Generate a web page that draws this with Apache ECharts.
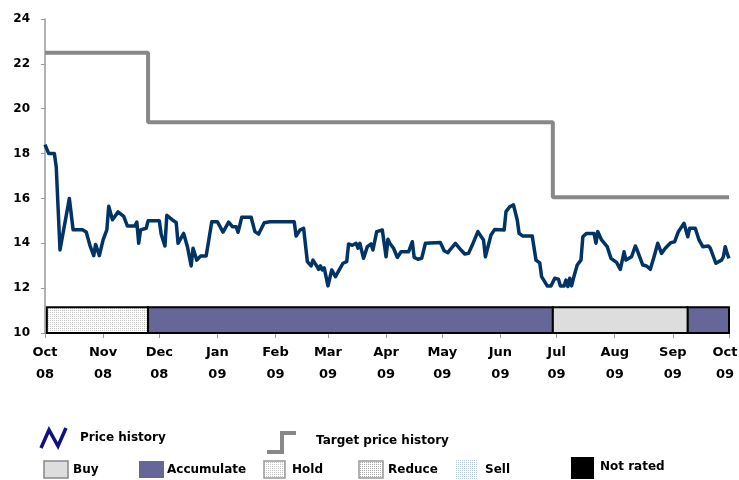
<!DOCTYPE html>
<html>
<head>
<meta charset="utf-8">
<script src="https://cdn.jsdelivr.net/npm/echarts@6/dist/echarts.min.js"></script>
<style>
  html, body { margin: 0; padding: 0; background: #fff; }
  #chart { width: 739px; height: 480px; }
</style>
</head>
<body>
<div id="chart"></div>
<script>
// day offsets from 1 Oct 2008 and closing prices
var priceDays = [
  0, 2, 5, 6, 8, 13, 15, 20, 22, 24,
  26, 27, 29, 31, 33, 34, 36, 39, 42, 44,
  48, 49, 50, 51, 54, 55, 61, 62, 64, 65,
  68, 70, 71, 74, 76, 78, 79, 81, 83, 86,
  89, 92, 95, 98, 100, 102, 103, 105, 110, 112,
  113, 114, 117, 120, 133, 134, 136, 138, 140, 142,
  143, 145, 146, 147, 148, 149, 151, 153, 155, 157,
  159, 161, 162, 164, 166, 167, 168, 170, 172, 174,
  175, 177, 180, 181, 182, 183, 184, 186, 188, 190,
  194, 196, 197, 199, 201, 202, 203, 211, 213, 215,
  216, 219, 222, 224, 226, 228, 231, 232, 234, 235,
  238, 240, 245, 246, 248, 250, 252, 253, 255, 260,
  262, 264, 265, 266, 268, 270, 272, 274, 275, 277,
  278, 279, 280, 281, 282, 284, 286, 287, 289, 293,
  294, 295, 297, 300, 301, 302, 305, 307, 309, 310,
  313, 315, 316, 319, 321, 323, 325, 327, 329, 331,
  334, 336, 338, 341, 343, 344, 347, 349, 351, 354,
  355, 358, 359, 361, 362, 363, 364, 365
];
var priceValues = [
  18.4, 18.0, 18.0, 17.4, 13.7, 16.0, 14.6, 14.6, 14.5, 13.9,
  13.45, 13.95, 13.45, 14.15, 14.6, 15.65, 15.05, 15.4, 15.2, 14.77,
  14.77, 14.95, 14.0, 14.6, 14.67, 15.0, 15.0, 14.4, 13.88, 15.25,
  15.04, 14.93, 14.0, 14.44, 13.85, 12.99, 13.78, 13.25, 13.43, 13.43,
  14.96, 14.96, 14.5, 14.94, 14.74, 14.74, 14.49, 15.16, 15.16, 14.52,
  14.59, 14.41, 14.92, 14.96, 14.96, 14.32, 14.59, 14.67, 13.18, 12.99,
  13.25, 12.99, 12.84, 12.99, 12.81, 12.9, 12.1, 12.81, 12.51, 12.81,
  13.11, 13.18, 13.97, 13.91, 14.0, 13.78, 14.0, 13.33, 13.85, 13.97,
  13.7, 14.52, 14.59, 14.57, 13.4, 14.18, 14.0, 13.78, 13.37, 13.62,
  13.62, 14.07, 13.37, 13.29, 13.33, 13.29, 14.0, 14.03, 13.67, 13.58,
  13.7, 14.0, 13.7, 13.52, 13.55, 13.92, 14.52, 14.52, 14.15, 13.4,
  14.37, 14.62, 14.59, 15.41, 15.63, 15.71, 15.04, 14.44, 14.32, 14.32,
  13.25, 13.13, 12.51, 12.44, 12.1, 12.1, 12.44, 12.4, 12.1, 12.1,
  12.36, 12.07, 12.44, 12.1, 12.44, 13.03, 13.25, 14.29, 14.44, 14.44,
  14.0, 14.52, 14.15, 13.85, 13.78, 13.33, 13.15, 12.84, 13.62, 13.25,
  13.4, 13.88, 13.7, 13.03, 12.99, 12.84, 13.4, 14.0, 13.55, 13.78,
  14.03, 14.07, 14.52, 14.89, 14.29, 14.67, 14.67, 14.15, 13.85, 13.88,
  13.78, 13.11, 13.03, 13.25, 13.4, 13.85, 13.55, 13.33
];

// target price steps
var targetDays = [0, 55, 271, 365];
var targetValues = [22.5, 19.4, 16.05, 16.05];

// rating periods
var ratingStart = [1, 55, 271, 343];
var ratingEnd = [55, 271, 343, 365];
var ratingNames = ["Hold", "Accumulate", "Buy", "Accumulate"];

var monthNames = ["Jan", "Feb", "Mar", "Apr", "May", "Jun", "Jul", "Aug", "Sep", "Oct", "Nov", "Dec"];
var yTicks = [10, 12, 14, 16, 18, 20, 22, 24];

var FONT = "DejaVu Sans";
var RATING_TOP = 11.15;

function pad(n) {
  return n < 10 ? "0" + n : "" + n;
}

// one category per day, 1 Oct 2008 .. 1 Oct 2009
var dayCats = [];
for (var i = 0; i <= 365; i++) {
  var d = new Date(2008, 9, 1 + i);
  dayCats.push(d.getFullYear() + "-" + pad(d.getMonth() + 1) + "-" + pad(d.getDate()));
}

function isMonthStart(index, value) {
  return /-01$/.test(value);
}

function makePattern(bg, dot, step) {
  var c = document.createElement("canvas");
  c.width = step;
  c.height = step;
  var ctx = c.getContext("2d");
  ctx.fillStyle = bg;
  ctx.fillRect(0, 0, step, step);
  ctx.fillStyle = dot;
  ctx.fillRect(0, 0, 1, 1);
  return { image: c, repeat: "repeat" };
}

var holdFill = makePattern("#ffffff", "#c4c4c4", 2);
var reduceFill = makePattern("#ffffff", "#a8a8a8", 2);
var sellFill = makePattern("#ffffff", "#b8c8dc", 2);

var ratingColors = {
  Buy: "#dddddd",
  Accumulate: "#666699",
  Hold: holdFill
};

var priceData = priceDays.map(function (d, i) {
  return [d, priceValues[i]];
});
var targetData = targetDays.map(function (d, i) {
  return [d, targetValues[i]];
});
var ratingData = ratingStart.map(function (s, i) {
  return [s, ratingEnd[i], 10];
});

var labelStyle = { fontFamily: FONT, fontWeight: "bold", fontSize: 12, fill: "#000" };
function legendText(x, y, txt) {
  return { type: "text", x: x, y: y, style: Object.assign({ text: txt, verticalAlign: "middle" }, labelStyle) };
}

var axisFont = { fontFamily: FONT, fontWeight: "bold", fontSize: 13, lineHeight: 22, color: "#000" };

var myChart = echarts.init(document.getElementById("chart"), null, { renderer: "canvas" });
var option = {
  animation: false,
  backgroundColor: "#ffffff",
  grid: { left: 45, right: 10, top: 19, bottom: 147, containLabel: false, outerBoundsMode: "none" },
  xAxis: {
    type: "category",
    data: dayCats,
    boundaryGap: false,
    axisLine: { lineStyle: { color: "#999999", width: 1.5 } },
    axisTick: { interval: isMonthStart, length: 5, lineStyle: { color: "#999999" } },
    axisLabel: Object.assign({
      interval: isMonthStart,
      margin: 9,
      formatter: function (value, index) {
        var p = value.split("-");
        var txt = monthNames[parseInt(p[1], 10) - 1] + "\n" + p[0].slice(2);
        // last label sits against the right edge
        if (index === dayCats.length - 1) {
          return "{e|" + monthNames[parseInt(p[1], 10) - 1] + "}\n{e|" + p[0].slice(2) + "}";
        }
        return txt;
      },
      rich: {
        e: Object.assign({ padding: [0, 8, 0, 0] }, axisFont)
      }
    }, axisFont),
    splitLine: { show: false }
  },
  yAxis: {
    type: "value",
    min: 10,
    max: 24,
    interval: 2,
    axisLine: { show: true, lineStyle: { color: "#999999", width: 1.5 } },
    axisTick: { show: true, length: 4, lineStyle: { color: "#999999" } },
    axisLabel: {
      margin: 15,
      color: "#000",
      fontFamily: FONT,
      fontWeight: "bold",
      fontSize: 12,
      formatter: function (v) {
        return yTicks.indexOf(v) >= 0 ? String(v) : "";
      }
    },
    splitLine: { show: false }
  },
  series: [
    {
      name: "Target price history",
      type: "line",
      step: "end",
      data: targetData,
      symbol: "none",
      lineStyle: { color: "#888888", width: 4 }
    },
    {
      name: "Price history",
      type: "line",
      data: priceData,
      symbol: "none",
      lineStyle: { color: "#003366", width: 3.5, join: "round" }
    },
    {
      name: "Rating",
      type: "custom",
      data: ratingData,
      encode: { x: [0, 1], y: 2 },
      z: 5,
      renderItem: function (params, api) {
        var p0 = api.coord([api.value(0), RATING_TOP]);
        var p1 = api.coord([api.value(1), 10]);
        var name = ratingNames[params.dataIndex];
        return {
          type: "rect",
          shape: { x: p0[0], y: p0[1], width: p1[0] - p0[0], height: p1[1] - p0[1] },
          style: { fill: ratingColors[name], stroke: "#000000", lineWidth: 2 }
        };
      }
    }
  ],
  graphic: [
    {
      type: "polyline",
      shape: { points: [[41, 448], [49, 430], [58, 446], [66, 428]] },
      style: { stroke: "#101080", lineWidth: 3.5, fill: null }
    },
    legendText(80, 438, "Price history"),
    {
      type: "polyline",
      shape: { points: [[267, 452], [282, 452], [282, 433], [296, 433]] },
      style: { stroke: "#888888", lineWidth: 4, fill: null }
    },
    legendText(316, 441, "Target price history"),
    { type: "rect", shape: { x: 44, y: 461, width: 24, height: 17 }, style: { fill: "#dddddd", stroke: "#888888", lineWidth: 1.5 } },
    legendText(73, 470, "Buy"),
    { type: "rect", shape: { x: 139, y: 461, width: 25, height: 17 }, style: { fill: "#666699" } },
    legendText(167, 470, "Accumulate"),
    { type: "rect", shape: { x: 264, y: 461, width: 21, height: 17 }, style: { fill: holdFill, stroke: "#999999", lineWidth: 1.5 } },
    legendText(292, 470, "Hold"),
    { type: "rect", shape: { x: 359, y: 461, width: 24, height: 17 }, style: { fill: reduceFill, stroke: "#999999", lineWidth: 1.5 } },
    legendText(388, 470, "Reduce"),
    { type: "rect", shape: { x: 456, y: 460, width: 22, height: 19 }, style: { fill: sellFill } },
    legendText(485, 470, "Sell"),
    { type: "rect", shape: { x: 571, y: 457, width: 23, height: 22 }, style: { fill: "#000000" } },
    legendText(600, 467, "Not rated")
  ]
};
myChart.setOption(option);
</script>
</body>
</html>
